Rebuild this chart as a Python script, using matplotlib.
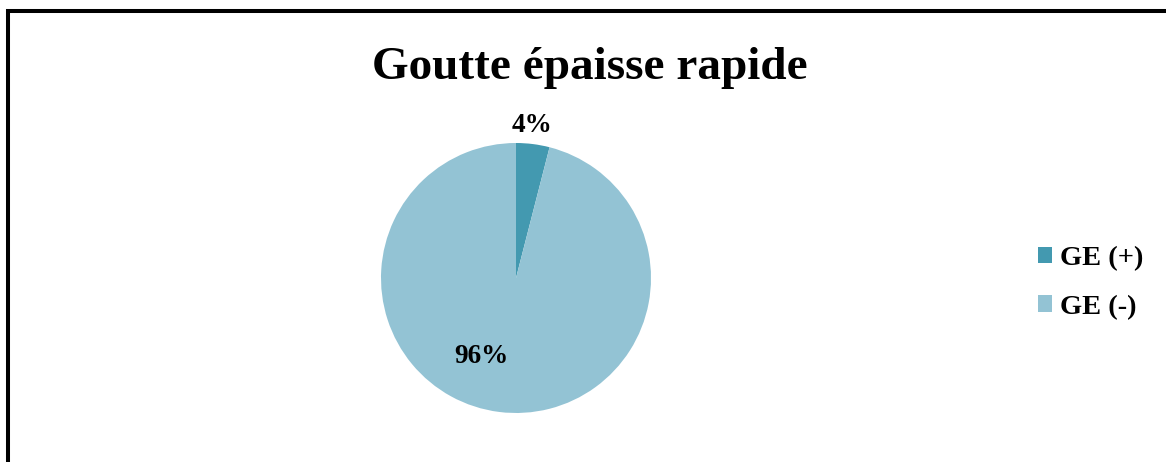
import matplotlib
matplotlib.use("Agg")
import matplotlib.pyplot as plt
from matplotlib.patches import Rectangle
import numpy as np

# Data
categories = ["GE (+)", "GE (-)"]
values = [4, 96]
value_labels = ["4%", "96%"]
colors = ["#4399B0", "#93C3D4"]
title = "Goutte épaisse rapide"

plt.rcParams["font.family"] = ["Liberation Serif", "DejaVu Serif"]

W, H = 1166, 462
fig = plt.figure(figsize=(W / 100, H / 100), dpi=100)
fig.patch.set_facecolor("white")

# Pie axes: centre (516, 278) px, radius 135 px
cx, cy, r = 516, 278, 135
ax = fig.add_axes([(cx - r) / W, (H - cy - r) / H, 2 * r / W, 2 * r / H])
wedges, _ = ax.pie(values, colors=colors, startangle=90, counterclock=False,
                   radius=1, wedgeprops=dict(linewidth=0))
ax.set_xlim(-1, 1)
ax.set_ylim(-1, 1)
ax.set_aspect("equal")
ax.axis("off")

# Percentage labels
label_pos = [(0.115, 1.126), (-0.26, -0.585)]
for (x, y), txt in zip(label_pos, value_labels):
    ax.text(x, y, txt, ha="center", va="center", fontsize=19.5,
            fontweight="bold", color="black", clip_on=False)

# Title
fig.text(590 / W, (H - 79) / H, title, ha="center", va="baseline",
         fontsize=34, fontweight="bold", color="black")

# Legend
leg = fig.legend(wedges, categories, loc="center left",
                 bbox_to_anchor=(1038 / W, (H - 283) / H),
                 frameon=False, prop=dict(weight="bold", size=20.5),
                 handlelength=0.5, handleheight=0.5, handletextpad=0.29,
                 labelspacing=0.82, borderpad=0, borderaxespad=0)

# Chart frame
fig.patches.append(Rectangle((8 / W, -0.1), 1.2, (H - 11) / H + 0.1,
                             transform=fig.transFigure, fill=False,
                             edgecolor="black", linewidth=2.9, clip_on=False))

fig.savefig("out.png", dpi=100)
